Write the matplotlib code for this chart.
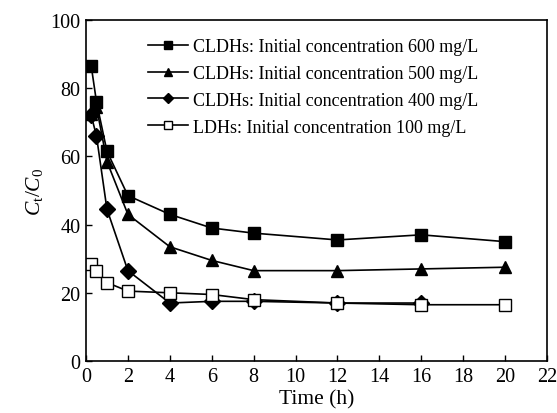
import numpy as np
import matplotlib
matplotlib.use('Agg')
import matplotlib.pyplot as plt

# Data
time_600 = [0.25, 0.5, 1, 2, 4, 6, 8, 12, 16, 20]
ratio_600 = [86.5, 76, 61.5, 48.5, 43, 39, 37.5, 35.5, 37, 35]

time_500 = [0.25, 0.5, 1, 2, 4, 6, 8, 12, 16, 20]
ratio_500 = [72.5, 74.5, 58.5, 43, 33.5, 29.5, 26.5, 26.5, 27, 27.5]

time_400 = [0.25, 0.5, 1, 2, 4, 6, 8, 12, 16]
ratio_400 = [72, 66, 44.5, 26.5, 17, 17.5, 17.5, 17, 17]

time_ldh = [0.25, 0.5, 1, 2, 4, 6, 8, 12, 16, 20]
ratio_ldh = [28.5, 26.5, 23, 20.5, 20, 19.5, 18, 17, 16.5, 16.5]

labels = ['CLDHs: Initial concentration 600 mg/L',
          'CLDHs: Initial concentration 500 mg/L',
          'CLDHs: Initial concentration 400 mg/L',
          'LDHs: Initial concentration 100 mg/L']

plt.rcParams['font.family'] = ['Liberation Serif', 'DejaVu Serif']
plt.rcParams['mathtext.fontset'] = 'custom'
plt.rcParams['mathtext.it'] = 'Liberation Serif:italic'
plt.rcParams['mathtext.rm'] = 'Liberation Serif'

fig = plt.figure(figsize=(5.57, 4.14), dpi=100)
ax = fig.add_axes([0.1544, 0.1256, 0.8276, 0.8237])

lw = 1.2
ax.plot(time_600, ratio_600, '-s', color='black', mfc='black', ms=9, lw=lw, label=labels[0])
ax.plot(time_500, ratio_500, '-^', color='black', mfc='black', ms=9, lw=lw, label=labels[1])
ax.plot(time_400, ratio_400, '-D', color='black', mfc='black', ms=8, lw=lw, label=labels[2])
ax.plot(time_ldh, ratio_ldh, '-s', color='black', mfc='white', ms=9, lw=lw, label=labels[3])

ax.set_xlim(0, 22)
ax.set_ylim(0, 100)
ax.set_xticks(np.arange(0, 23, 2))
ax.set_yticks(np.arange(0, 101, 20))
ax.tick_params(direction='in', length=4, width=1, labelsize=14.5, top=False, right=False, pad=4)
for s in ax.spines.values():
    s.set_linewidth(1.2)

ax.set_xlabel('Time (h)', fontsize=15.5, labelpad=3)
ax.set_ylabel('$C_\\mathrm{t}/C_0$', fontsize=15.5, labelpad=4)

ax.legend(loc='upper left', bbox_to_anchor=(0.1, 0.995), frameon=False, fontsize=13,
          markerscale=0.65, handlelength=2.2, handletextpad=0.25, labelspacing=0.55)

plt.savefig('out.png', dpi=100)
